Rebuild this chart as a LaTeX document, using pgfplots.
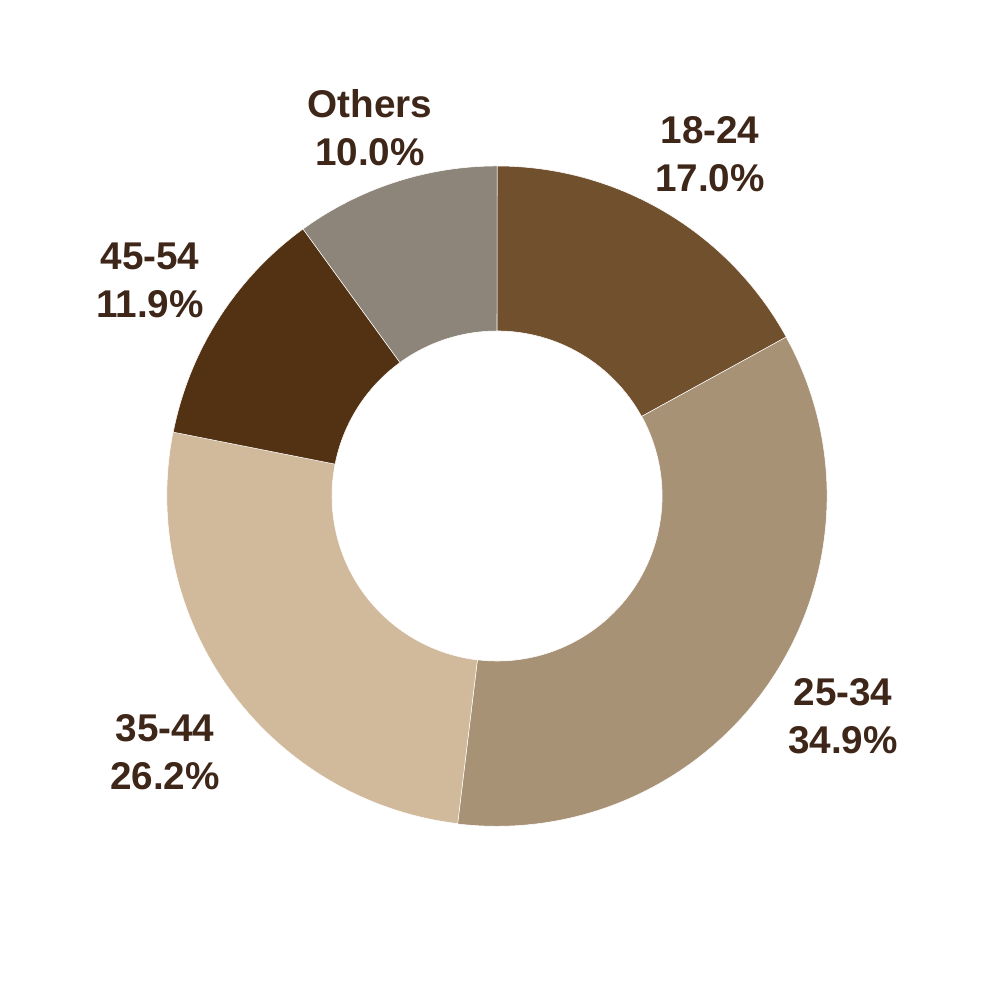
\documentclass[border=0pt]{standalone}
\usepackage{pgfplots}
\usepackage{pgfplotstable}
\pgfplotsset{compat=1.18}
\usepackage{fontspec}
\setmainfont{Liberation Sans}
\definecolor{c0}{HTML}{71502D}
\definecolor{c1}{HTML}{A89276}
\definecolor{c2}{HTML}{D1BA9C}
\definecolor{c3}{HTML}{523212}
\definecolor{c4}{HTML}{8E857A}
\definecolor{txt}{HTML}{3E2619}

\pgfplotstableread[col sep=comma]{
label,value,lx,ly
18-24,17.0,710,846
25-34,34.9,843,284
35-44,26.2,165,248
45-54,11.9,150,720
Others,10.0,370,872
}\datatable

\def\cum{0}
\foreach \i in {0,...,4}{%
  \pgfplotstablegetelem{\i}{value}\of\datatable
  \let\v\pgfplotsretval
  \pgfmathsetmacro\a{90-3.6*\cum}%
  \pgfmathsetmacro\b{90-3.6*(\cum+\v)}%
  \expandafter\xdef\csname sa\i\endcsname{\a}%
  \expandafter\xdef\csname ea\i\endcsname{\b}%
  \pgfmathsetmacro\nc{\cum+\v}%
  \xdef\cum{\nc}%
}

\begin{document}
\begin{tikzpicture}
\begin{axis}[
  x=0.01cm, y=0.01cm,
  xmin=0, xmax=1000, ymin=0, ymax=1000,
  hide axis, clip=false, scale only axis,
]
\path (axis cs:0,0) rectangle (axis cs:1000,1000);
\pgfplotsinvokeforeach{0,...,4}{
  \fill[c#1, draw=white, line width=0.15pt]
    (axis cs:{497+330*cos(\csname sa#1\endcsname)},{504+330*sin(\csname sa#1\endcsname)})
    arc[start angle=\csname sa#1\endcsname, end angle=\csname ea#1\endcsname, radius=3.3cm]
    -- (axis cs:{497+165*cos(\csname ea#1\endcsname)},{504+165*sin(\csname ea#1\endcsname)})
    arc[start angle=\csname ea#1\endcsname, end angle=\csname sa#1\endcsname, radius=1.65cm]
    -- cycle;
}
\addplot[only marks, mark=none,
  nodes near coords={\pgfplotstablegetelem{\coordindex}{label}\of\datatable\pgfplotsretval\\\pgfmathprintnumber[fixed,fixed zerofill,precision=1,assume math mode=true]{\pgfplotspointmeta}\%},
  point meta=explicit,
  every node near coord/.append style={anchor=center, align=center, text=txt, font=\bfseries\fontsize{11}{13.6}\selectfont},
] table[x=lx, y=ly, meta=value] {\datatable};
\end{axis}
\end{tikzpicture}
\end{document}
